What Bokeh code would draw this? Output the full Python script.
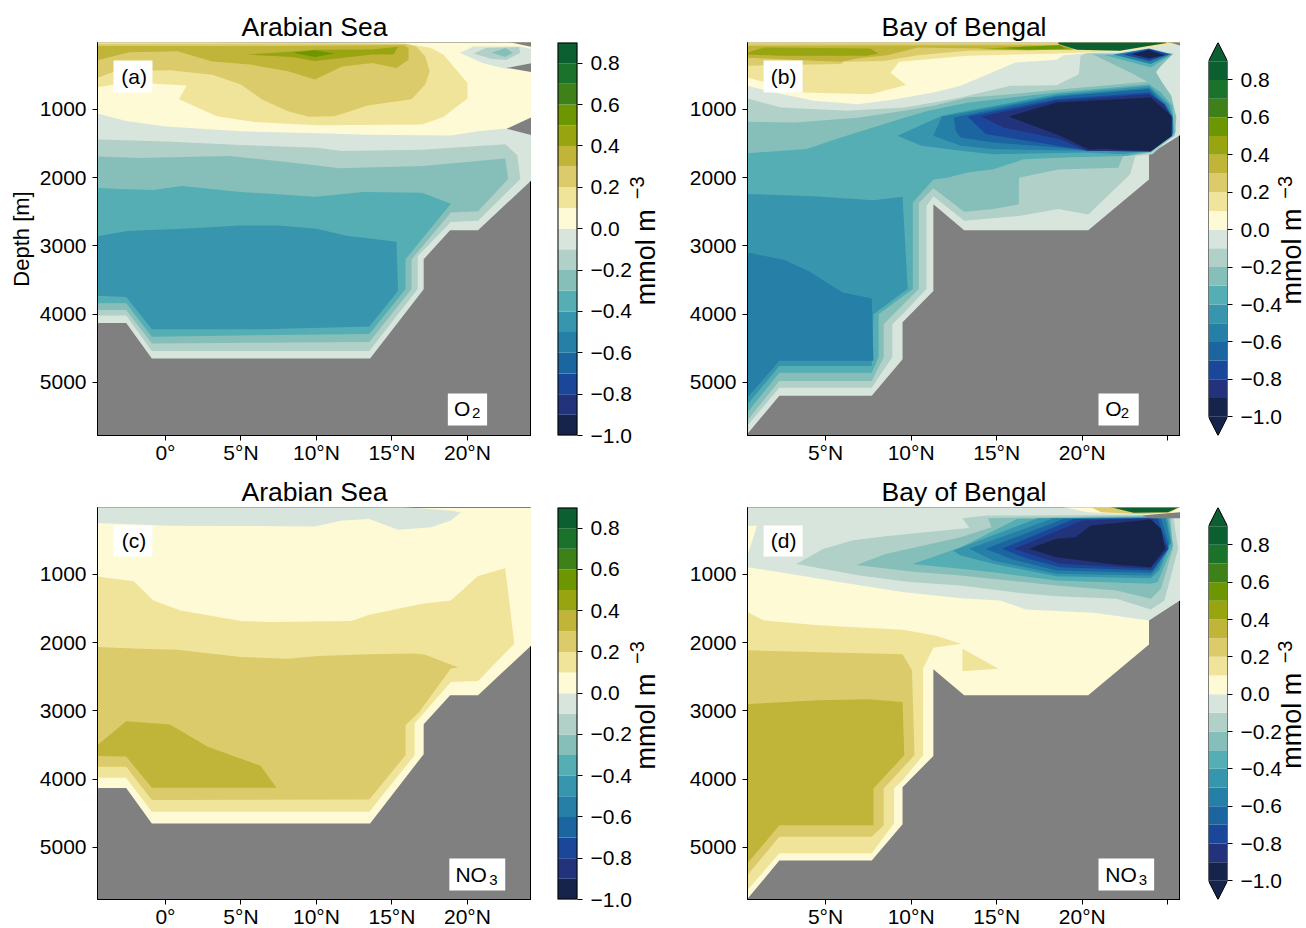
from math import pi
from bokeh.core.properties import value
from bokeh.embed import file_html
from bokeh.layouts import column, row
from bokeh.models import FixedTicker, Label, Range1d
from bokeh.plotting import figure
from bokeh.resources import INLINE

# ---------- colour levels (lower edge of each band -> colour) ----------
LEVELS = [-1.0, -0.9, -0.8, -0.7, -0.6, -0.5, -0.4, -0.3, -0.2, -0.1, 0.0,
          0.1, 0.2, 0.3, 0.4, 0.5, 0.6, 0.7, 0.8, 0.9]
COLORS = ["#16244b", "#22337b", "#1b479b", "#1b66a1", "#267fa7", "#3795ae",
          "#54aeb4", "#86bfb9", "#b0d0c8", "#d8e5dc", "#fdfad5", "#f0e49a",
          "#dccb6b", "#c0b439", "#98a510", "#6d9603", "#3d8118", "#1a722b",
          "#0c5f30"]
CB_TICKS = [-1.0, -0.8, -0.6, -0.4, -0.2, 0.0, 0.2, 0.4, 0.6, 0.8]
CB_LABELS = ["\u22121.0", "\u22120.8", "\u22120.6", "\u22120.4", "\u22120.2",
             "0.0", "0.2", "0.4", "0.6", "0.8"]
DEPTH_TICKS = [1000, 2000, 3000, 4000, 5000]
DEPTH_LABELS = ["1000", "2000", "3000", "4000", "5000"]
AS_TICKS = [0, 5, 10, 15, 20]
AS_LABELS = ["0\u00b0", "5\u00b0N", "10\u00b0N", "15\u00b0N", "20\u00b0N"]
BB_TICKS = [5, 10, 15, 20, 25]
BB_LABELS = ["5\u00b0N", "10\u00b0N", "15\u00b0N", "20\u00b0N", ""]

# ---------- sea floor outlines (lat, depth) ----------
AS_OCEAN = [(-4.5, 0), (24.3, 0), (24.3, 2024), (20.7, 2770), (18.85, 2770), (17.1, 3195),
            (17.1, 3634), (13.55, 4650), (-0.9, 4650), (-2.6, 4130), (-4.5, 4130)]
BB_OCEAN = [(0.44, 0), (25.8, 0), (25.8, 1365), (23.9, 1660), (23.9, 2025), (20.35, 2770),
            (13.1, 2770), (11.3, 2390), (11.3, 3660), (9.5, 4120), (9.5, 4660), (7.7, 5195),
            (2.3, 5195), (0.44, 5755)]

# ---------- (a) Arabian Sea O2 : iso-value regions ----------
A_M02 = [(-4.5, 1440), (0, 1470), (5, 1520), (10, 1560), (11.7, 1610), (17, 1590), (22.5, 1510),
         (23.3, 1670), (23.5, 2020), (20.7, 2630), (18.9, 2650), (16.7, 3150), (16.7, 3630),
         (13.5, 4540), (-0.9, 4540), (-2.6, 4020), (-4.5, 4020)]
A_M03 = [(-4.5, 1690), (-1.7, 1710), (4.2, 1680), (9.2, 1800), (11.5, 1860), (17, 1830),
         (22.5, 1720), (22.7, 2020), (20.7, 2490), (18.9, 2510), (16.3, 3195), (16.3, 3630),
         (13.5, 4410), (-0.9, 4430), (-2.6, 3940), (-4.5, 3940)]
A_M04 = [(-4.5, 2150), (-2.5, 2170), (-0.8, 2180), (1.1, 2120), (5, 2210), (9.9, 2280),
         (13.1, 2210), (17, 2220), (18.9, 2380), (15.9, 3195), (15.9, 3630), (13.5, 4290),
         (-0.9, 4330), (-2.6, 3840), (-4.5, 3840)]
A_M05 = [(-4.5, 2860), (-2.5, 2780), (1.1, 2750), (5, 2700), (7.5, 2700), (10, 2750), (12, 2850),
         (15.3, 2940), (15.4, 3660), (13.5, 4180), (6.4, 4220), (-0.9, 4220), (-2.6, 3750),
         (-4.5, 3730)]
A_P00 = [(-4.5, 1060), (-2.6, 1170), (0, 1250), (5, 1320), (10.1, 1350), (13.4, 1370), (18.9, 1380),
         (20.7, 1320), (22.6, 1280), (24.3, 1110), (24.3, 0), (-4.5, 0)]
A_P01 = [(-4.4, 670), (-2.5, 600), (1.4, 650), (0.9, 850), (3.4, 1100), (5.9, 1185), (10.1, 1230),
         (17, 1220), (18.4, 1110), (20, 840), (20, 610), (18.4, 195), (17.6, 100), (15.9, 35),
         (-4.5, 0), (-4.5, 670)]
A_P02 = [(-4.5, 535), (-3.3, 440), (0.3, 425), (3.1, 490), (5, 635), (6.4, 855), (8.1, 1025),
         (9.5, 1105), (11.2, 1100), (13.4, 940), (16.3, 850), (17.2, 635), (17.5, 440), (17.2, 220),
         (16.6, 75), (15.9, 35), (-4.5, 40)]
A_P03 = [(-4.5, 280), (-2.4, 160), (0.8, 145), (3.1, 295), (5.6, 340), (8.1, 440), (9.9, 560),
         (11.7, 370), (13.7, 320), (15.3, 390), (16.1, 270), (16.1, 100), (15.8, 60), (8, 70),
         (-4.5, 70)]
A_P04 = [(5.3, 195), (8.4, 150), (9.9, 125), (13.7, 120), (15.4, 80), (15.1, 195), (13.7, 195),
         (9.9, 290), (8.4, 230)]
A_P05 = [(8.4, 170), (9.9, 130), (11.2, 180), (9.9, 230)]
A_BLOB1 = [(19.5, 170), (20.4, 75), (23.5, 75), (24.3, 120), (24.3, 317), (22.6, 405), (21, 320)]
A_BLOB2 = [(20.4, 180), (21.2, 100), (23.4, 85), (23.5, 170), (22.6, 270), (21.6, 260)]
A_BLOB3 = [(21.6, 170), (22.5, 100), (23, 170), (22.5, 230)]
A_GAP1 = [(22.6, 390), (24.3, 317), (24.3, 454)]
A_GAP2 = [(22.6, 1283), (24.3, 1107), (24.3, 1380)]
A_GAP3 = [(22.5, 0), (24.3, 0), (24.3, 85)]
PANEL_A = [(-0.1, AS_OCEAN), (-0.2, A_M02), (-0.3, A_M03), (-0.4, A_M04), (-0.5, A_M05),
           (0.0, A_P00), (0.1, A_P01), (0.2, A_P02), (0.3, A_P03), (0.4, A_P04), (0.5, A_P05),
           (-0.1, A_BLOB1), (-0.2, A_BLOB2), (-0.3, A_BLOB3),
           (None, A_GAP1), (None, A_GAP2), (None, A_GAP3)]

# ---------- (b) Bay of Bengal O2 ----------
B_M02 = [(0.44, 839), (2.4, 971), (6.3, 1020), (9.6, 971), (11.3, 897), (12.9, 824), (15.8, 653),
         (18.5, 643), (19.8, 482), (19.9, 213), (20.3, 170), (25.3, 190), (24.6, 360), (24.3, 458),
         (24.8, 653), (25.3, 946), (25.5, 1337), (24.1, 1655), (23.1, 1680), (22.8, 1950),
         (20.35, 2540), (18.6, 2460), (16.3, 2560), (13.1, 2630), (11.3, 2270), (10.9, 2415),
         (10.9, 3630), (9.5, 4000), (8.9, 4150), (8.9, 4630), (7.7, 5080), (2.3, 5080), (0.44, 5630)]
B_M03 = [(0.44, 1180), (3.2, 1190), (6.9, 1120), (9.6, 1020), (11.3, 946), (13.3, 824), (14.8, 800),
         (18.5, 712), (23.8, 595), (22.9, 467), (20.6, 190), (25.3, 180), (24.6, 360), (24.3, 448),
         (24.6, 580), (25.2, 800), (25.5, 1117), (25.4, 1386), (24, 1630), (22.4, 1680), (22.1, 1855),
         (18.6, 1880), (16.3, 2000), (16.3, 2390), (14.8, 2460), (13.1, 2500), (11.3, 2155),
         (10.45, 2370), (10.45, 3630), (8.9, 4020), (8.4, 4150), (8.4, 4630), (7.7, 4980),
         (2.3, 4980), (0.44, 5550)]
B_M04 = [(0.44, 1640), (3.9, 1580), (5.9, 1410), (9.6, 1120), (11, 1020), (13.3, 900), (18.5, 750),
         (23.9, 630), (24.6, 750), (25.25, 946), (25.4, 1337), (24, 1620), (22.6, 1680), (19.3, 1700),
         (16.6, 1728), (14.8, 1875), (13.3, 1923), (12.1, 2000), (11.3, 2025), (10.1, 2365),
         (10.1, 3630), (8.1, 4000), (8.1, 4630), (7.7, 4860), (2.3, 4860), (0.44, 5440)]
B_M05_DEEP = [(0.44, 2240), (4.3, 2270), (7.8, 2330), (9.5, 2280), (9.8, 3630), (7.8, 4000),
              (7.7, 4760), (2.3, 4760), (0.44, 5320)]
B_M06_DEEP = [(0.44, 3098), (2.6, 3205), (4, 3366), (6, 3683), (7.7, 3771), (7.8, 4683), (2.3, 4683),
              (0.44, 5220)]
B_M05 = [(9.2, 1386), (11.8, 1093), (13.3, 1020), (18.5, 775), (23.9, 653), (25.05, 922), (25.3, 1090),
         (25.3, 1360), (24, 1600), (22.4, 1655), (20.3, 1630), (14.8, 1655), (12.9, 1606), (10.6, 1530)]
B_M06 = [(11.3, 1386), (11.8, 1103), (13.3, 1040), (18.5, 800), (23.9, 680), (24.9, 922), (25.3, 1117),
         (25.3, 1360), (24, 1600), (20.3, 1606), (14.8, 1580), (12.9, 1530)]
B_M07 = [(12.5, 1117), (18.5, 815), (23.9, 700), (24.8, 950), (25.25, 1130), (25.25, 1350), (24, 1590),
         (20.3, 1590), (14.8, 1485), (12.9, 1410), (12.6, 1310)]
B_M08 = [(13.3, 1103), (14.35, 1360), (16.8, 1460), (20.3, 1606), (24, 1615), (25.25, 1386), (25.25, 1117),
         (24.8, 920), (23.9, 750), (18.5, 850)]
B_M09 = [(14.1, 1103), (15.4, 1264), (18.7, 1435), (20.3, 1606), (24, 1615), (25.25, 1386), (25.25, 1117),
         (24.8, 930), (23.9, 775), (18.5, 873)]
B_M10 = [(15.7, 1103), (18.7, 1386), (20.4, 1590), (21.2, 1575), (22, 1590), (24, 1610), (25.2, 1386),
         (25.2, 1090), (24, 824), (18.5, 897)]
B_S04 = [(21.3, 200), (25.3, 190), (24, 385), (22.6, 290)]
B_S06 = [(21.8, 195), (23.9, 105), (25.2, 185), (24, 335)]
B_S08 = [(22.4, 195), (23.9, 115), (25.05, 190), (23.9, 290)]
B_S10 = [(22.9, 190), (23.9, 125), (24.8, 204), (23.9, 252)]
B_P00 = [(0.44, 653), (2, 750), (4.3, 873), (6.9, 922), (9.2, 848), (11.3, 750), (12.9, 653), (16.1, 310),
         (18.5, 272), (18.9, 204), (20.7, 165), (22.2, 155), (24.6, 67), (25.8, 30), (25.8, 0), (0.44, 0)]
B_P01 = [(0.44, 530), (3.55, 750), (7.64, 775), (9.7, 640), (8.8, 460), (9.3, 300), (13.3, 213), (18.5, 180),
         (22.2, 145), (24.6, 65), (25.8, 30), (25.8, 0), (0.44, 0)]
B_P02 = [(0.44, 360), (1.6, 350), (5.9, 335), (6.1, 300), (8.4, 290), (10.4, 205), (13.3, 140), (18.7, 125),
         (22.2, 125), (25, 30), (0.44, 30)]
B_P03 = [(0.44, 240), (3, 272), (5.9, 300), (6.9, 250), (8.6, 204), (10.4, 90), (14, 105), (19, 110),
         (22, 110), (22, 55), (0.44, 65)]
B_P04 = [(0.44, 165), (1.4, 90), (7.6, 105), (8.1, 180), (7.4, 213), (2.4, 213), (0.44, 195)]
B_P04T = [(14, 115), (15.4, 90), (18.6, 60), (19.5, 120), (16.8, 130)]
B_P05T = [(15.4, 100), (16.8, 75), (18.7, 60), (19, 110), (16.8, 120)]
B_P08T = [(18.6, 0), (18.6, 40), (19.7, 125), (22.2, 140), (24.9, 25), (24.9, 0)]
B_GAP = [(24.9, 0), (25.8, 0), (25.8, 70)]
PANEL_B = [(-0.1, BB_OCEAN), (-0.2, B_M02), (-0.3, B_M03), (-0.4, B_M04), (-0.4, B_S04),
           (-0.5, B_M05_DEEP), (-0.6, B_M06_DEEP), (-0.5, B_M05), (-0.6, B_M06), (-0.7, B_M07),
           (-0.8, B_M08), (-0.9, B_M09), (-1.0, B_M10), (-0.6, B_S06), (-0.8, B_S08), (-1.0, B_S10),
           (0.0, B_P00), (0.1, B_P01), (0.2, B_P02), (0.3, B_P03), (0.4, B_P04), (0.4, B_P04T),
           (0.5, B_P05T), (0.8, B_P08T), (None, B_GAP)]

# ---------- (c) Arabian Sea NO3 ----------
C_M01 = [(-4.5, 0), (15.1, 0), (19, 65), (19.55, 90), (18.9, 210), (17.6, 307), (15.4, 345), (13.5, 185),
         (11.7, 210), (9.9, 295), (0.3, 285), (-4.5, 245)]
C_P01 = [(-4.5, 1030), (-2.1, 1100), (-0.8, 1380), (1, 1527), (5, 1683), (7, 1698), (12.3, 1683), (13.5, 1590),
         (17, 1430), (18.9, 1380), (20.7, 1024), (22.5, 907), (22.8, 1454), (23.1, 2015), (20.7, 2560),
         (18.9, 2575), (16.5, 3185), (16.5, 3650), (13.5, 4478), (-0.9, 4478), (-2.6, 3980), (-4.5, 3980)]
C_P02 = [(-4.5, 2063), (-1.7, 2088), (0.8, 2102), (5, 2210), (8.1, 2234), (10.1, 2195), (13.4, 2170),
         (16.5, 2160), (17.2, 2175), (19.4, 2365), (18.9, 2380), (16.8, 3015), (15.9, 3210), (15.9, 3650),
         (13.5, 4298), (-0.9, 4307), (-2.6, 3820), (-4.5, 3820)]
C_P03 = [(-4.5, 3500), (-2.6, 3150), (0.3, 3200), (2.8, 3525), (6.3, 3805), (7.35, 4125), (-0.9, 4125),
         (-2.6, 3670), (-4.5, 3660)]
PANEL_C = [(0.0, AS_OCEAN), (-0.1, C_M01), (0.1, C_P01), (0.2, C_P02), (0.3, C_P03)]

# ---------- (d) Bay of Bengal NO3 ----------
D_M01 = [(0.44, 893), (2.9, 990), (5.8, 1112), (9.5, 1258), (12.9, 1347), (15.2, 1382), (16.7, 1513), (20.7, 1562),
         (23.9, 1675), (25.8, 1365), (25.8, 0), (0.44, 0)]
D_P00L = [(0.44, 285), (1.0, 285), (0.44, 720)]
D_M02 = [(3.3, 845), (4.85, 625), (6.55, 500), (8.5, 440), (12.9, 331), (13.4, 320), (13, 175), (14.45, 135),
         (25.3, 126), (25.6, 624), (24.8, 1382), (24, 1513), (22, 1357), (18.5, 1318), (16.8, 1284), (12.9, 1162),
         (9.9, 1112), (7, 1014)]
D_M03 = [(6.8, 860), (8.5, 700), (12.9, 453), (14.7, 307), (14.5, 175), (25.15, 135), (25.3, 624), (24.6, 1210),
         (24, 1357), (22, 1235), (18.5, 1162), (12.9, 1015), (10, 955)]
D_M04 = [(10.1, 845), (12.9, 600), (16.2, 185), (25.05, 145), (25.3, 575), (24.4, 1113), (24, 1137), (18.5, 1088),
         (14.8, 966), (12.9, 917)]
D_M05 = [(12.45, 650), (17.4, 175), (24.95, 160), (25.2, 527), (24.5, 942), (24, 1055), (18.5, 1025), (14.8, 844),
         (12.9, 722)]
D_M06 = [(13.4, 624), (18.3, 175), (24.85, 170), (25.15, 527), (24.4, 917), (24, 1015), (18.5, 990), (14.8, 795)]
D_M07 = [(14.35, 624), (18.9, 185), (24.6, 175), (25.05, 550), (24.3, 893), (24, 976), (18.5, 942), (15.8, 770)]
D_M08 = [(15.3, 624), (19.5, 185), (24.4, 175), (25.05, 624), (24.1, 942), (18.7, 893), (16.8, 770)]
D_M09 = [(16, 624), (20, 210), (24.1, 175), (24.95, 624), (24, 917), (18.7, 844)]
D_M10 = [(16.9, 624), (18.5, 477), (19.6, 453), (20.5, 282), (24, 194), (24.6, 331), (24.85, 624), (24, 893),
         (22, 859), (18.5, 746)]
D_P01 = [(0.44, 1550), (1.4, 1673), (4.6, 1746), (9.5, 1810), (11.4, 1893), (12.9, 2015), (11.3, 2073), (10.7, 2380),
         (10.7, 3650), (9.5, 4015), (9, 4137), (9, 4650), (7.7, 5088), (2.3, 5088), (0.44, 5625)]
D_P01B = [(13, 2090), (15.1, 2383), (13, 2417)]
D_P02 = [(0.44, 2112), (9.5, 2170), (10.05, 2405), (10.2, 3650), (8.4, 4137), (8.4, 4675), (7.7, 4845), (2.3, 4845),
         (0.44, 5405)]
D_P03 = [(0.44, 2900), (4.6, 2845), (7.5, 2830), (9.5, 2870), (9.6, 3650), (7.8, 4137), (7.8, 4675), (2.3, 4675),
         (0.44, 5235)]
D_T00 = [(18.7, 0), (20.3, 87), (23.8, 126), (25.8, 96), (25.8, 0)]
D_T02 = [(20.4, 0), (21.1, 87), (23.4, 116), (25.1, 96), (25.8, 0)]
D_T08 = [(21.45, 0), (23, 96), (25, 87), (25.8, 0)]
D_GAP = [(23.5, 135), (24.6, 111), (25.8, 87), (25.8, 175), (24, 175)]
PANEL_D = [(0.0, BB_OCEAN), (-0.1, D_M01), (0.0, D_P00L), (-0.2, D_M02), (-0.3, D_M03), (-0.4, D_M04), (-0.5, D_M05),
           (-0.6, D_M06), (-0.7, D_M07), (-0.8, D_M08), (-0.9, D_M09), (-1.0, D_M10),
           (0.1, D_P01), (0.1, D_P01B), (0.2, D_P02), (0.3, D_P03),
           (0.0, D_T00), (0.2, D_T02), (0.8, D_T08), (None, D_GAP)]

FONT = "Liberation Sans"
GREY = "#808080"


def color_of(level):
    return COLORS[round((level + 1.0) * 10)]


def panel(regions, title, xr, yr, xticks, xlabels, tag, tagpos, chem, chempos, subpos, tagbox, chembox,
          left, top, bottom, fw, fh, ylabel=None):
    p = figure(frame_width=fw, frame_height=fh, output_backend="svg", toolbar_location=None,
               x_range=Range1d(*xr), y_range=Range1d(*yr), min_border_left=left, min_border_right=0,
               min_border_top=top, min_border_bottom=bottom, title=title,
               background_fill_color=GREY, border_fill_color=None)
    p.title.text_font = FONT
    p.title.text_font_size = "26.5px"
    p.title.text_font_style = "normal"
    p.title.text_color = "black"
    p.title.align = "center"
    p.title.standoff = 1
    p.grid.visible = False
    p.outline_line_color = "black"
    p.outline_line_width = 1
    for lev, pts in regions:
        color = GREY if lev is None else color_of(lev)
        p.patch([a for a, _ in pts], [b for _, b in pts], fill_color=color, line_color=None)
    for ax in (p.xaxis[0], p.yaxis[0]):
        ax.major_tick_line_color = "black"
        ax.major_tick_out = 5
        ax.major_tick_in = 0
        ax.minor_tick_line_color = None
        ax.axis_line_color = "black"
        ax.major_label_text_font = FONT
        ax.major_label_text_font_size = "21px"
        ax.major_label_text_color = "black"
    p.xaxis[0].major_label_standoff = 0
    p.yaxis[0].major_label_standoff = 6
    p.xaxis[0].ticker = FixedTicker(ticks=xticks)
    p.xaxis[0].major_label_overrides = dict(zip(xticks, xlabels))
    p.yaxis[0].ticker = FixedTicker(ticks=DEPTH_TICKS)
    p.yaxis[0].major_label_overrides = dict(zip(DEPTH_TICKS, DEPTH_LABELS))
    if ylabel:
        p.yaxis[0].axis_label = ylabel
        p.yaxis[0].axis_label_text_font = FONT
        p.yaxis[0].axis_label_text_font_size = "22px"
        p.yaxis[0].axis_label_text_font_style = "normal"
        p.yaxis[0].axis_label_text_color = "black"
        p.yaxis[0].axis_label_standoff = 3
    for (x0, x1, d0, d1) in (tagbox, chembox):
        p.quad(left=x0, right=x1, top=d0, bottom=d1, fill_color="white", line_color=None)
    p.add_layout(Label(x=tagpos[0], y=tagpos[1], text=tag, text_font=FONT, text_font_size="21px",
                       text_color="black", text_align="center", text_baseline="middle"))
    p.add_layout(Label(x=chempos[0], y=chempos[1], text=chem[0], text_font=FONT, text_font_size="21px",
                       text_color="black", text_align="left", text_baseline="middle"))
    p.add_layout(Label(x=subpos[0], y=subpos[1], text=chem[1], text_font=FONT, text_font_size="15px",
                       text_color="black", text_align="left", text_baseline="middle"))
    return p


def cb_range(extend):
    return Range1d(-1.1, 1.0) if extend else Range1d(-1.0, 0.9)


def colorbar(extend, left, right, top, bottom, fw, fh):
    p = figure(frame_width=fw, frame_height=fh, output_backend="svg", toolbar_location=None,
               x_range=Range1d(0, 1), y_range=cb_range(extend), x_axis_location=None, y_axis_location="right",
               min_border_left=left, min_border_right=right, min_border_top=top, min_border_bottom=bottom,
               border_fill_color=None, background_fill_color=None)
    p.grid.visible = False
    p.outline_line_color = None
    p.quad(left=0, right=1, bottom=LEVELS[:-1], top=LEVELS[1:], fill_color=COLORS, line_color=None)
    if extend:
        p.patch([0, 0.5, 1], [LEVELS[-1], 1.0, LEVELS[-1]], fill_color=COLORS[-1], line_color=None)
        p.patch([0, 0.5, 1], [LEVELS[0], -1.1, LEVELS[0]], fill_color=COLORS[0], line_color=None)
        p.line([0, 0, 0.5, 1, 1, 0.5, 0], [LEVELS[0], LEVELS[-1], 1.0, LEVELS[-1], LEVELS[0], -1.1, LEVELS[0]],
               line_color="black", line_width=1)
    else:
        p.line([0, 0, 1, 1, 0], [LEVELS[0], LEVELS[-1], LEVELS[-1], LEVELS[0], LEVELS[0]],
               line_color="black", line_width=2)
    ax = p.yaxis[0]
    ax.ticker = FixedTicker(ticks=CB_TICKS)
    ax.major_label_overrides = dict(zip(CB_TICKS, CB_LABELS))
    ax.axis_line_color = None
    ax.major_tick_line_color = "black"
    ax.major_tick_out = 5
    ax.major_tick_in = 0
    ax.minor_tick_line_color = None
    ax.major_label_text_font = FONT
    ax.major_label_text_font_size = "21px"
    ax.major_label_text_color = "black"
    ax.major_label_standoff = 8
    return p


def unit_label(extend, width, top, bottom, fh, x_main, x_sup):
    p = figure(frame_width=width, frame_height=fh, output_backend="svg", toolbar_location=None,
               x_range=Range1d(0, 1), y_range=cb_range(extend), x_axis_location=None, y_axis_location=None,
               min_border_left=0, min_border_right=0, min_border_top=top, min_border_bottom=bottom,
               border_fill_color=None, background_fill_color=None, margin=(0, 0, 0, -14))
    p.grid.visible = False
    p.outline_line_color = None
    y_main, y_sup = (-0.40, 0.165) if extend else (-0.37, 0.142)
    p.text(x=[x_main], y=[y_main], text=["mmol m"], angle=pi / 2, text_font=value(FONT), text_font_size="27px",
           text_color="black", text_align="left", text_baseline="middle")
    p.text(x=[x_sup], y=[y_sup], text=["\u22123"], angle=pi / 2, text_font=value(FONT), text_font_size="20px",
           text_color="black", text_align="left", text_baseline="middle")
    return p


AS_XR = (-4.5, 24.24)
BB_XR = (0.44, 25.74)
TOP_YR = (5779, 18)
BOT_YR = (5765, 18)

a = panel(PANEL_A, "Arabian Sea", AS_XR, TOP_YR, AS_TICKS, AS_LABELS, "(a)", (-2.08, 516), ("O", "2"),
          (19.1, 5383), (20.3, 5456), (-3.44, -0.86, 282, 751), (18.7, 21.3, 5163, 5632), 97, 42, 30, 434, 393,
          ylabel="Depth [m]")
b = panel(PANEL_B, "Bay of Bengal", BB_XR, TOP_YR, BB_TICKS, BB_LABELS, "(b)", (2.55, 516), ("O", "2"),
          (21.35, 5383), (22.25, 5456), (1.38, 3.66, 282, 751), (20.95, 23.3, 5163, 5632), 70, 42, 30, 433, 393)
c = panel(PANEL_C, "Arabian Sea", AS_XR, BOT_YR, AS_TICKS, AS_LABELS, "(c)", (-2.08, 500), ("NO", "3"),
          (19.2, 5398), (21.45, 5486), (-3.44, -0.86, 282, 736), (18.8, 22.5, 5163, 5633), 97, 41, 26, 434, 392)
d = panel(PANEL_D, "Bay of Bengal", BB_XR, BOT_YR, BB_TICKS, BB_LABELS, "(d)", (2.55, 500), ("NO", "3"),
          (21.35, 5398), (23.3, 5486), (1.38, 3.66, 282, 736), (20.95, 24.2, 5163, 5633), 70, 41, 26, 433, 392)

cb_a = colorbar(False, 26, 57, 42, 30, 20, 393)
ul_a = unit_label(False, 57, 42, 30, 393, 0.446, 0.281)
cb_b = colorbar(True, 28, 53, 42, 30, 19, 393)
ul_b = unit_label(True, 40, 42, 30, 393, 0.535, 0.35)
cb_c = colorbar(False, 26, 57, 41, 26, 20, 392)
ul_c = unit_label(False, 57, 41, 26, 392, 0.446, 0.281)
cb_d = colorbar(True, 28, 53, 41, 26, 19, 392)
ul_d = unit_label(True, 40, 41, 26, 392, 0.535, 0.35)

page = column(row(a, cb_a, ul_a, b, cb_b, ul_b), row(c, cb_c, ul_c, d, cb_d, ul_d))
open("out.html", "w").write(file_html(page, INLINE))
